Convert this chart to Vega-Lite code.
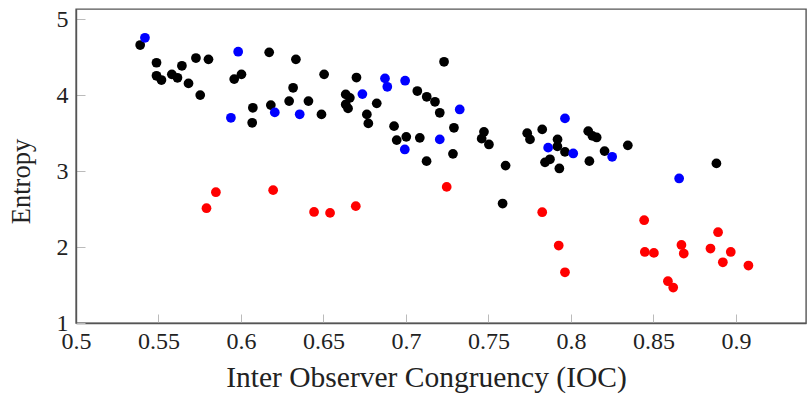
{
  "$schema": "https://vega.github.io/schema/vega-lite/v6.json",
  "autosize": {"type": "none"},
  "width": 730,
  "height": 314,
  "padding": {"left": 76, "top": 9, "right": 1, "bottom": 82},
  "background": "white",
  "config": {
    "view": {"stroke": "#555555", "strokeWidth": 1.4},
    "axis": {
      "grid": false,
      "domainColor": "#555555",
      "domainWidth": 1.4,
      "tickColor": "#bbbbbb",
      "tickWidth": 1,
      "tickSize": -9,
      "labelFont": "Liberation Serif",
      "labelFontSize": 24,
      "labelColor": "#222222",
      "titleFont": "Liberation Serif",
      "titleFontSize": 29.5,
      "titleFontWeight": "normal",
      "titleColor": "#222222",
      "labelFlush": false,
      "labelOverlap": false,
      "labelBound": false
    }
  },
  "data": {
    "values": [
      {"ioc": 0.5389, "entropy": 4.661, "g": "a"},
      {"ioc": 0.5488, "entropy": 4.428, "g": "a"},
      {"ioc": 0.5488, "entropy": 4.256, "g": "a"},
      {"ioc": 0.5518, "entropy": 4.200, "g": "a"},
      {"ioc": 0.5581, "entropy": 4.275, "g": "a"},
      {"ioc": 0.5615, "entropy": 4.230, "g": "a"},
      {"ioc": 0.5642, "entropy": 4.388, "g": "a"},
      {"ioc": 0.5682, "entropy": 4.156, "g": "a"},
      {"ioc": 0.5727, "entropy": 4.490, "g": "a"},
      {"ioc": 0.5803, "entropy": 4.473, "g": "a"},
      {"ioc": 0.5753, "entropy": 4.002, "g": "a"},
      {"ioc": 0.5959, "entropy": 4.213, "g": "a"},
      {"ioc": 0.6003, "entropy": 4.275, "g": "a"},
      {"ioc": 0.6072, "entropy": 3.835, "g": "a"},
      {"ioc": 0.6068, "entropy": 3.637, "g": "a"},
      {"ioc": 0.6171, "entropy": 4.565, "g": "a"},
      {"ioc": 0.6181, "entropy": 3.870, "g": "a"},
      {"ioc": 0.6333, "entropy": 4.473, "g": "a"},
      {"ioc": 0.6316, "entropy": 4.098, "g": "a"},
      {"ioc": 0.6292, "entropy": 3.923, "g": "a"},
      {"ioc": 0.6409, "entropy": 3.923, "g": "a"},
      {"ioc": 0.6488, "entropy": 3.748, "g": "a"},
      {"ioc": 0.6504, "entropy": 4.275, "g": "a"},
      {"ioc": 0.6700, "entropy": 4.233, "g": "a"},
      {"ioc": 0.6635, "entropy": 4.011, "g": "a"},
      {"ioc": 0.6660, "entropy": 3.966, "g": "a"},
      {"ioc": 0.6635, "entropy": 3.879, "g": "a"},
      {"ioc": 0.6649, "entropy": 3.827, "g": "a"},
      {"ioc": 0.6823, "entropy": 3.893, "g": "a"},
      {"ioc": 0.6763, "entropy": 3.748, "g": "a"},
      {"ioc": 0.6772, "entropy": 3.629, "g": "a"},
      {"ioc": 0.7069, "entropy": 4.055, "g": "a"},
      {"ioc": 0.7126, "entropy": 3.980, "g": "a"},
      {"ioc": 0.7176, "entropy": 3.914, "g": "a"},
      {"ioc": 0.7205, "entropy": 3.769, "g": "a"},
      {"ioc": 0.7231, "entropy": 4.441, "g": "a"},
      {"ioc": 0.6928, "entropy": 3.593, "g": "a"},
      {"ioc": 0.6944, "entropy": 3.409, "g": "a"},
      {"ioc": 0.7002, "entropy": 3.452, "g": "a"},
      {"ioc": 0.7084, "entropy": 3.439, "g": "a"},
      {"ioc": 0.7291, "entropy": 3.571, "g": "a"},
      {"ioc": 0.7285, "entropy": 3.228, "g": "a"},
      {"ioc": 0.7125, "entropy": 3.132, "g": "a"},
      {"ioc": 0.7473, "entropy": 3.518, "g": "a"},
      {"ioc": 0.7459, "entropy": 3.428, "g": "a"},
      {"ioc": 0.7503, "entropy": 3.352, "g": "a"},
      {"ioc": 0.7604, "entropy": 3.073, "g": "a"},
      {"ioc": 0.7586, "entropy": 2.574, "g": "a"},
      {"ioc": 0.7735, "entropy": 3.501, "g": "a"},
      {"ioc": 0.7752, "entropy": 3.418, "g": "a"},
      {"ioc": 0.7826, "entropy": 3.550, "g": "a"},
      {"ioc": 0.7919, "entropy": 3.418, "g": "a"},
      {"ioc": 0.7918, "entropy": 3.326, "g": "a"},
      {"ioc": 0.7964, "entropy": 3.254, "g": "a"},
      {"ioc": 0.7873, "entropy": 3.156, "g": "a"},
      {"ioc": 0.7843, "entropy": 3.116, "g": "a"},
      {"ioc": 0.7930, "entropy": 3.036, "g": "a"},
      {"ioc": 0.8105, "entropy": 3.527, "g": "a"},
      {"ioc": 0.8130, "entropy": 3.465, "g": "a"},
      {"ioc": 0.8156, "entropy": 3.444, "g": "a"},
      {"ioc": 0.8112, "entropy": 3.132, "g": "a"},
      {"ioc": 0.8204, "entropy": 3.264, "g": "a"},
      {"ioc": 0.8345, "entropy": 3.340, "g": "a"},
      {"ioc": 0.8882, "entropy": 3.102, "g": "a"},
      {"ioc": 0.5418, "entropy": 4.757, "g": "b"},
      {"ioc": 0.5983, "entropy": 4.573, "g": "b"},
      {"ioc": 0.5939, "entropy": 3.703, "g": "b"},
      {"ioc": 0.6205, "entropy": 3.774, "g": "b"},
      {"ioc": 0.6356, "entropy": 3.749, "g": "b"},
      {"ioc": 0.6736, "entropy": 4.015, "g": "b"},
      {"ioc": 0.6873, "entropy": 4.222, "g": "b"},
      {"ioc": 0.6887, "entropy": 4.111, "g": "b"},
      {"ioc": 0.6995, "entropy": 4.191, "g": "b"},
      {"ioc": 0.7326, "entropy": 3.813, "g": "b"},
      {"ioc": 0.6993, "entropy": 3.286, "g": "b"},
      {"ioc": 0.7205, "entropy": 3.418, "g": "b"},
      {"ioc": 0.7862, "entropy": 3.310, "g": "b"},
      {"ioc": 0.7964, "entropy": 3.695, "g": "b"},
      {"ioc": 0.8014, "entropy": 3.233, "g": "b"},
      {"ioc": 0.8250, "entropy": 3.189, "g": "b"},
      {"ioc": 0.8656, "entropy": 2.904, "g": "b"},
      {"ioc": 0.5791, "entropy": 2.512, "g": "c"},
      {"ioc": 0.5848, "entropy": 2.723, "g": "c"},
      {"ioc": 0.6195, "entropy": 2.750, "g": "c"},
      {"ioc": 0.6443, "entropy": 2.463, "g": "c"},
      {"ioc": 0.6540, "entropy": 2.450, "g": "c"},
      {"ioc": 0.6696, "entropy": 2.539, "g": "c"},
      {"ioc": 0.7247, "entropy": 2.793, "g": "c"},
      {"ioc": 0.7826, "entropy": 2.459, "g": "c"},
      {"ioc": 0.7926, "entropy": 2.020, "g": "c"},
      {"ioc": 0.7964, "entropy": 1.668, "g": "c"},
      {"ioc": 0.8444, "entropy": 2.354, "g": "c"},
      {"ioc": 0.8448, "entropy": 1.936, "g": "c"},
      {"ioc": 0.8503, "entropy": 1.923, "g": "c"},
      {"ioc": 0.8670, "entropy": 2.028, "g": "c"},
      {"ioc": 0.8684, "entropy": 1.915, "g": "c"},
      {"ioc": 0.8588, "entropy": 1.550, "g": "c"},
      {"ioc": 0.8620, "entropy": 1.467, "g": "c"},
      {"ioc": 0.8846, "entropy": 1.981, "g": "c"},
      {"ioc": 0.8892, "entropy": 2.196, "g": "c"},
      {"ioc": 0.8969, "entropy": 1.936, "g": "c"},
      {"ioc": 0.8921, "entropy": 1.800, "g": "c"},
      {"ioc": 0.9076, "entropy": 1.757, "g": "c"}
    ]
  },
  "mark": {"type": "circle", "size": 95, "opacity": 1},
  "encoding": {
    "x": {
      "field": "ioc",
      "type": "quantitative",
      "scale": {"domain": [0.5, 0.9425], "nice": false, "zero": false},
      "axis": {
        "title": "Inter Observer Congruency (IOC)",
        "values": [0.5, 0.55, 0.6, 0.65, 0.7, 0.75, 0.8, 0.85, 0.9],
        "format": "~g",
        "labelPadding": 15,
        "titlePadding": 10,
        "titleX": 350
      }
    },
    "y": {
      "field": "entropy",
      "type": "quantitative",
      "scale": {"domain": [1, 5.136], "nice": false, "zero": false},
      "axis": {
        "title": "Entropy",
        "values": [1, 2, 3, 4, 5],
        "format": "~g",
        "labelPadding": 17,
        "titlePadding": 21,
        "titleFontSize": 26.5,
        "titleY": 172
      }
    },
    "color": {
      "field": "g",
      "type": "nominal",
      "scale": {"domain": ["a", "b", "c"], "range": ["#000000", "#0000ff", "#ff0000"]},
      "legend": null
    },
    "order": {"field": "g"}
  }
}
